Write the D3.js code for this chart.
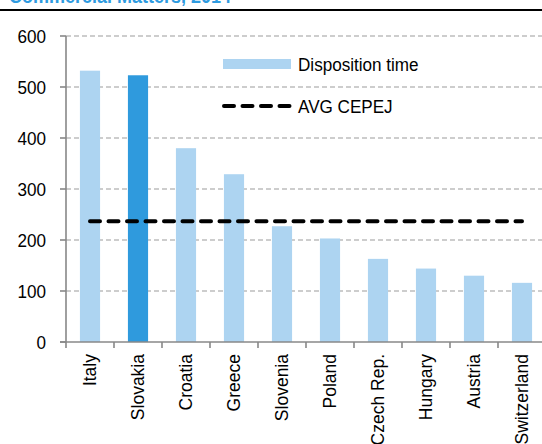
<!DOCTYPE html>
<html>
<head>
<meta charset="utf-8">
<style>
  body { margin: 0; background: #fff; }
  svg text { font-family: "Liberation Sans", Arial, sans-serif; fill: #000; }
</style>
</head>
<body>
<svg width="542" height="444"></svg>
<script src="https://d3js.org/d3.v7.min.js"></script>
<script>
  var countries = ["Italy", "Slovakia", "Croatia", "Greece", "Slovenia", "Poland",
                   "Czech Rep.", "Hungary", "Austria", "Switzerland"];
  var dispositionTime = [532, 523, 380, 329, 227, 203, 163, 144, 130, 116];
  var avgCepej = 237;
  var highlight = "Slovakia";
  var yTicks = [0, 100, 200, 300, 400, 500, 600];

  var svg = d3.select("svg");

  var data = countries.map(function(c, i) {
    return { country: c, value: dispositionTime[i] };
  });

  var x = d3.scaleBand().domain(countries).range([66, 546]).padding(0);
  var y = d3.scaleLinear().domain([0, 600]).range([342, 36]);

  // text is a bit narrow in the original
  function narrow(px, py) {
    return "translate(" + px + "," + py + ") scale(0.9,1)";
  }

  // title (mostly cut off at top) and rule
  svg.append("text")
      .attr("transform", narrow(9, 3))
      .style("font-weight", "bold")
      .style("font-size", "20px")
      .style("fill", "#2E9BE0")
      .text("Commercial Matters, 2014");

  svg.append("line")
      .attr("x1", 0).attr("x2", 542)
      .attr("y1", 10).attr("y2", 10)
      .attr("stroke", "#000")
      .attr("stroke-width", 2);

  // grid
  svg.append("g")
    .selectAll("line")
    .data(yTicks.filter(function(d) { return d > 0; }))
    .enter().append("line")
      .attr("x1", 66).attr("x2", 542)
      .attr("y1", function(d) { return y(d); })
      .attr("y2", function(d) { return y(d); })
      .attr("stroke", "#bdbdbd")
      .attr("stroke-width", 1.3)
      .attr("stroke-dasharray", "5,3");

  // bars
  var barW = x.bandwidth() * 0.42;
  svg.append("g")
    .selectAll("rect")
    .data(data)
    .enter().append("rect")
      .attr("x", function(d) { return x(d.country) + (x.bandwidth() - barW) / 2; })
      .attr("y", function(d) { return y(d.value); })
      .attr("width", barW)
      .attr("height", function(d) { return y(0) - y(d.value); })
      .attr("fill", function(d) { return d.country === highlight ? "#2F9ADD" : "#ADD4F1"; });

  // average line
  var avgLine = d3.line()
      .x(function(d) { return x(d) + x.bandwidth() / 2; })
      .y(function() { return y(avgCepej); });

  svg.append("path")
      .datum([countries[0], countries[countries.length - 1]])
      .attr("fill", "none")
      .attr("stroke", "#000")
      .attr("stroke-width", 4)
      .attr("stroke-linecap", "round")
      .attr("stroke-dasharray", "10,8.5")
      .attr("d", avgLine);

  // y axis
  var yAxis = svg.append("g");
  yAxis.append("line")
      .attr("x1", 66).attr("x2", 66)
      .attr("y1", y(600)).attr("y2", y(0))
      .attr("stroke", "#888").attr("stroke-width", 1.6);
  yAxis.selectAll(".tick")
    .data(yTicks)
    .enter().append("line")
      .attr("x1", 60).attr("x2", 66)
      .attr("y1", function(d) { return y(d); })
      .attr("y2", function(d) { return y(d); })
      .attr("stroke", "#888").attr("stroke-width", 1.6);
  yAxis.selectAll("text")
    .data(yTicks)
    .enter().append("text")
      .attr("transform", function(d) { return narrow(46, y(d)); })
      .attr("dy", "0.38em")
      .attr("text-anchor", "end")
      .style("font-size", "19px")
      .text(function(d) { return d; });

  // x axis
  var xAxis = svg.append("g");
  xAxis.append("line")
      .attr("x1", 60).attr("x2", 542)
      .attr("y1", y(0)).attr("y2", y(0))
      .attr("stroke", "#888").attr("stroke-width", 1.6);
  xAxis.selectAll(".tick")
    .data(countries.concat(["end"]))
    .enter().append("line")
      .attr("x1", function(d, i) { return x.range()[0] + i * x.step(); })
      .attr("x2", function(d, i) { return x.range()[0] + i * x.step(); })
      .attr("y1", y(0)).attr("y2", y(0) + 6)
      .attr("stroke", "#888").attr("stroke-width", 1.6);
  xAxis.selectAll("text")
    .data(countries)
    .enter().append("text")
      .attr("transform", function(d) {
        return "translate(" + (x(d) + x.bandwidth() / 2) + "," + 354 + ") rotate(-90)";
      })
      .attr("dy", "0.36em")
      .attr("text-anchor", "end")
      .style("font-size", "17.5px")
      .text(function(d) { return d; });

  // legend
  var legend = svg.append("g");
  legend.append("rect")
      .attr("x", 223).attr("y", 59)
      .attr("width", 68).attr("height", 10)
      .attr("fill", "#ADD4F1");
  legend.append("text")
      .attr("transform", narrow(298, 71))
      .style("font-size", "19px")
      .text("Disposition time");
  legend.append("line")
      .attr("x1", 224).attr("x2", 290)
      .attr("y1", 106).attr("y2", 106)
      .attr("stroke", "#000")
      .attr("stroke-width", 4)
      .attr("stroke-linecap", "round")
      .attr("stroke-dasharray", "10,8.5");
  legend.append("text")
      .attr("transform", narrow(298, 113))
      .style("font-size", "19px")
      .text("AVG CEPEJ");
</script>
</body>
</html>
